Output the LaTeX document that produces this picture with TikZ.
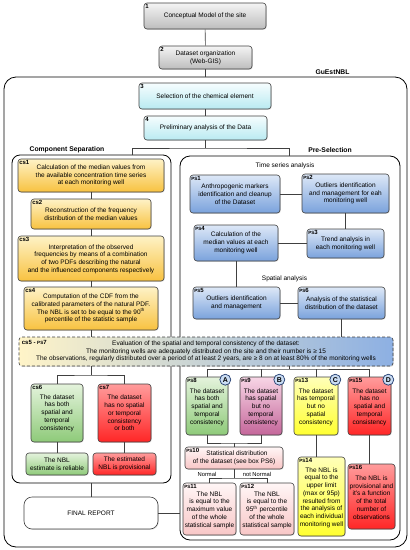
\documentclass[tikz,border=0pt]{standalone}
\usepackage{fontspec}
\setmainfont{Liberation Sans}
\usetikzlibrary{shadows}
\definecolor{boxline}{HTML}{404040}
\definecolor{grayA}{HTML}{F4F4F4}
\definecolor{grayB}{HTML}{BDBDBD}
\definecolor{cyanA}{HTML}{F6FDFE}
\definecolor{cyanB}{HTML}{B9EAF1}
\definecolor{yelA}{HTML}{FEF2C6}
\definecolor{yelB}{HTML}{F8C240}
\definecolor{bluA}{HTML}{DDE8F7}
\definecolor{bluB}{HTML}{7AA2DC}
\definecolor{grnA}{HTML}{E4F3DC}
\definecolor{grnB}{HTML}{8ECA79}
\definecolor{redA}{HTML}{FF9C9C}
\definecolor{redB}{HTML}{FF2626}
\definecolor{pnkA}{HTML}{F8D6E6}
\definecolor{pnkB}{HTML}{C4669A}
\definecolor{lemA}{HTML}{FFFFB8}
\definecolor{lemB}{HTML}{FFFF30}
\definecolor{rosA}{HTML}{FFF6F6}
\definecolor{rosB}{HTML}{F8C6C6}
\definecolor{evalA}{HTML}{FFF4C8}
\definecolor{evalB}{HTML}{8DB0E3}
\definecolor{circfill}{HTML}{C9DCF3}
\definecolor{circline}{HTML}{1F3A6E}

\newcommand{\pslab}[1]{{\fontsize{4.6}{5}\selectfont PS}#1}

\begin{document}
\begin{tikzpicture}[x=1pt, y=-1pt,
    every node/.style={font=\fontsize{6.5}{7.7}\selectfont},
    dims/.style 2 args={minimum width=#1pt, minimum height=#2pt},
    box/.style={draw=boxline, line width=0.6pt, rounded corners=3pt, align=center, inner sep=1pt,
        drop shadow={opacity=0.25, shadow xshift=0.8pt, shadow yshift=-0.8pt}},
    tag/.style={anchor=north west, inner sep=1.4pt, font=\fontsize{6}{6}\selectfont\bfseries},
    graybox/.style={box, top color=grayA, bottom color=grayB},
    cyanbox/.style={box, top color=cyanA, bottom color=cyanB},
    csbox/.style={box, top color=yelA, bottom color=yelB},
    psbox/.style={box, top color=bluA, bottom color=bluB},
    okbox/.style={box, top color=grnA, bottom color=grnB},
    badbox/.style={box, top color=redA, bottom color=redB},
    mixbox/.style={box, top color=pnkA, bottom color=pnkB},
    lembox/.style={box, top color=lemA, bottom color=lemB},
    rosbox/.style={box, top color=rosA, bottom color=rosB},
    evalbox/.style={box, densely dashed, left color=evalA, right color=evalB},
    frame/.style={draw=black, line width=0.8pt, inner sep=0pt},
    title/.style={font=\fontsize{6.8}{7}\selectfont\bfseries},
    letterdot/.style={circle, draw=circline, fill=circfill, line width=0.7pt, minimum size=11pt,
        inner sep=0pt, font=\fontsize{7}{7}\selectfont\bfseries},
    link/.style={draw=boxline, line width=0.6pt}
]
\useasboundingbox (0,0) rectangle (410,550);

% Site model and data
\node[graybox, dims={122}{26}, label={[tag]north west:1}] (step1) at (205,16) {Conceptual Model of the site};
\node[graybox, dims={93}{23}, label={[tag]north west:2}] (step2) at (205.5,57.5) {Dataset organization\\(Web-GIS)};

% GuEstNBL
\node[frame, rounded corners=12pt, dims={403}{470}] (guest) at (205.5,312) {};
\node[title] (guesttitle) at (332.5,72) {GuEstNBL};
\node[cyanbox, dims={132}{26}, label={[tag]north west:3}] (step3) at (205,96) {Selection of the chemical element};
\node[cyanbox, dims={123}{24}, label={[tag]north west:4}] (step4) at (205.5,128) {Preliminary analysis of the Data};
\draw[link] (step1) -- (step2);
\draw[link] (step2.south) -- (step2.south |- guest.north);
\draw[link] (step3.south) -- (step3.south |- step4.north);

% Frames
\node[frame, rounded corners=8pt, dims={159}{328}] (csframe) at (91.5,319) {};
\node[title] (cstitle) at (67,150) {Component Separation};
\node[frame, rounded corners=10pt, dims={220}{384}] (psframe) at (290,348) {};
\node[title] (pstitle) at (330,150) {Pre-Selection};
\coordinate (split) at (205.5,148);
\coordinate (csin) at (132,155);
\coordinate (psin) at (289,156);
\draw[link] (step4.south) -- (split);
\draw[link] (csin) |- (split) -| (psin);

% Component Separation
\node[csbox, dims={146}{33}, label={[tag]north west:cs1}] (cs1) at (91,175.5) {Calculation of the median values from\\the available concentration time series\\at each monitoring well};
\node[csbox, dims={120}{30}, label={[tag]north west:cs2}] (cs2) at (91,214) {Reconstruction of the frequency\\distribution of the median values};
\node[csbox, dims={146}{45}, label={[tag]north west:cs3}] (cs3) at (91,258.5) {\\[-2pt]Interpretation of the observed\\frequencies by means of a combination\\of two PDFs describing the natural\\and the influenced components respectively};
\node[csbox, dims={134}{43}, label={[tag]north west:cs4}] (cs4) at (91,308.5) {Computation of the CDF from the\\calibrated parameters of the natural PDF.\\The NBL is set to be equal to the 90\textsuperscript{th}\\percentile of the statistic sample};
\draw[link] (cs1) -- (cs2);
\draw[link] (cs2) -- (cs3);
\draw[link] (cs3) -- (cs4);

% Pre-Selection: time series analysis
\node (timetitle) at (285,166) {Time series analysis};
\node[psbox, dims={90}{38}, label={[tag]north west:\pslab{1}}] (ps1) at (235,194) {Anthropogenic markers\\identification and cleanup\\of the Dataset};
\node[psbox, dims={87}{39}, label={[tag]north west:\pslab{2}}] (ps2) at (345.5,193.5) {Outliers identification\\and management for eah\\monitoring well};
\node[psbox, dims={77}{29}, label={[tag]north west:\pslab{3}}] (ps3) at (345.5,243.5) {Trend analysis in\\each monitoring well};
\node[psbox, dims={84}{36}, label={[tag]north west:\pslab{4}}] (ps4) at (236,243) {Calculation of the\\median values at each\\monitoring well};
\draw[link] (ps1.east) -- (ps1.east -| ps2.west);
\draw[link] (ps2.south) -- (ps2.south |- ps3.north);
\draw[link] (ps3.west) -- (ps3.west -| ps4.east);

% Pre-Selection: spatial analysis
\node (spacetitle) at (284.5,279) {Spatial analysis};
\node[psbox, dims={87}{32}, label={[tag]north west:\pslab{5}}] (ps5) at (236.5,303) {Outliers identification\\and management};
\node[psbox, dims={87}{32}, label={[tag]north west:\pslab{6}}] (ps6) at (341.5,303) {Analysis of the statistical\\distribution of the dataset};
\draw[link] (ps4.south) -- (ps4.south |- ps5.north);
\draw[link] (ps5.east) -- (ps5.east -| ps6.west);

% Consistency check
\node[evalbox, dims={374}{29}, label={[tag, inner sep=3pt]north west:cs5 - \pslab{7}}] (eval) at (206,351.5) {Evaluation of the spatial and temporal consistency of the dataset:\\The monitoring wells are adequately distributed on the site and their number is ≥ 15\\The observations, regularly distributed over a period of at least 2 years, are ≥ 8 on at least 80\% of the monitoring wells};
\draw[link] (cs4.south) -- (cs4.south |- eval.north);
\draw[link] (ps6.south) -- (ps6.south |- eval.north);

% Component Separation outcome
\node[okbox, dims={52}{58}, label={[tag]north west:cs6}] (cs6) at (57,413) {The dataset\\has both\\spatial and\\temporal\\consistency};
\node[badbox, dims={53}{58}, label={[tag]north west:cs7}] (cs7) at (124.5,413) {The dataset\\has no spatial\\or temporal\\consistency\\or both};
\node[okbox, dims={62}{22}] (nblok) at (57,464) {The NBL\\estimate is reliable};
\node[badbox, dims={63}{22}] (nblprov) at (124.5,464) {The estimated\\NBL is provisional};
\coordinate (csfork) at (91,375);
\draw[link] (eval.south -| csfork) -- (csfork);
\draw[link] (cs6.north) |- (csfork) -| (cs7.north);
\draw[link] (cs6) -- (nblok);
\draw[link] (cs7) -- (nblprov);

% Final report
\node[box, fill=white, rounded corners=8pt, dims={134}{32}, drop shadow={opacity=0}] (final) at (91,513) {FINAL REPORT};
\draw[link] (csframe.south -| final.north) -- (final.north);
\draw[link] (final.east) -- (final.east -| psframe.west);

% Pre-Selection outcome
\node[okbox, dims={42}{58}, label={[tag]north west:\pslab{8}}] (ps8) at (207,406) {\\[-1pt]The dataset\\has both\\spatial and\\temporal\\consistency};
\node[mixbox, dims={42}{58}, label={[tag]north west:\pslab{9}}] (ps9) at (261,406) {\\[-1pt]The dataset\\has spatial\\but no\\temporal\\consistency};
\node[lembox, dims={44}{58}, label={[tag]north west:\pslab{13}}] (ps13) at (316,406) {\\[-1pt]The dataset\\has temporal\\but no\\spatial\\consistency};
\node[badbox, dims={43}{58}, label={[tag]north west:\pslab{15}}] (ps15) at (369.5,406) {\\[-1pt]The dataset\\has no\\spatial and\\temporal\\consistency};
\node[letterdot] (dotA) at ([shift={(-3,3)}]ps8.north east) {A};
\node[letterdot] (dotB) at ([shift={(-3,3)}]ps9.north east) {B};
\node[letterdot] (dotC) at ([shift={(-3,3)}]ps13.north east) {C};
\node[letterdot] (dotD) at ([shift={(-3,3)}]ps15.north east) {D};
\coordinate (psfork) at (289,369);
\draw[link] (eval.south -| psfork) -- (psfork);
\draw[link] (ps8.north) |- (psfork) -| (ps15.north);
\draw[link] (ps9.north) -- (ps9.north |- psfork);
\draw[link] (ps13.north) -- (ps13.north |- psfork);

\node[rosbox, dims={98}{22}, label={[tag]north west:\pslab{10}}] (ps10) at (234,458) {\hspace*{6pt}Statistical distribution\\of the dataset (see box PS6)};
\coordinate (join) at (234,443);
\draw[link] (ps8.south) |- (join) -| (ps9.south);
\draw[link] (join) -- (ps10.north);

\node[rosbox, dims={53}{52}, label={[tag]north west:\pslab{11}}] (ps11) at (209.5,509) {\\[-1pt]The NBL\\is equal to the\\maximum value\\of the whole\\statistical sample};
\node[rosbox, dims={54}{52}, label={[tag]north west:\pslab{12}}] (ps12) at (267,509) {\\[-1pt]The NBL\\is equal to the\\95\textsuperscript{th} percentile\\of the whole\\statistical sample};
\coordinate (normfork) at (234,478);
\draw[link] (ps10.south) -- (normfork);
\draw[link] (ps11.north) |- (normfork) -| (ps12.north);
\node[font=\fontsize{5.8}{6}\selectfont] (normal) at (207,474.5) {Normal};
\node[font=\fontsize{5.8}{6}\selectfont] (notnormal) at (257,474.5) {not Normal};

\node[lembox, dims={47}{79}, label={[tag]north west:\pslab{14}}] (ps14) at (321.5,496.5) {\\[-1pt]The NBL is\\equal to the\\upper limit\\(max or 95p)\\resulted from\\the analysis of\\each individual\\monitoring well};
\node[badbox, dims={47}{65}, label={[tag]north west:\pslab{16}}] (ps16) at (371.5,496.5) {\\[-1pt]The NBL is\\provisional and\\it's a function\\of the total\\number of\\observations};
\draw[link] (ps13.south) -- (ps13.south |- ps14.north);
\draw[link] (ps15.south) -- (ps15.south |- ps16.north);

\end{tikzpicture}
\end{document}
